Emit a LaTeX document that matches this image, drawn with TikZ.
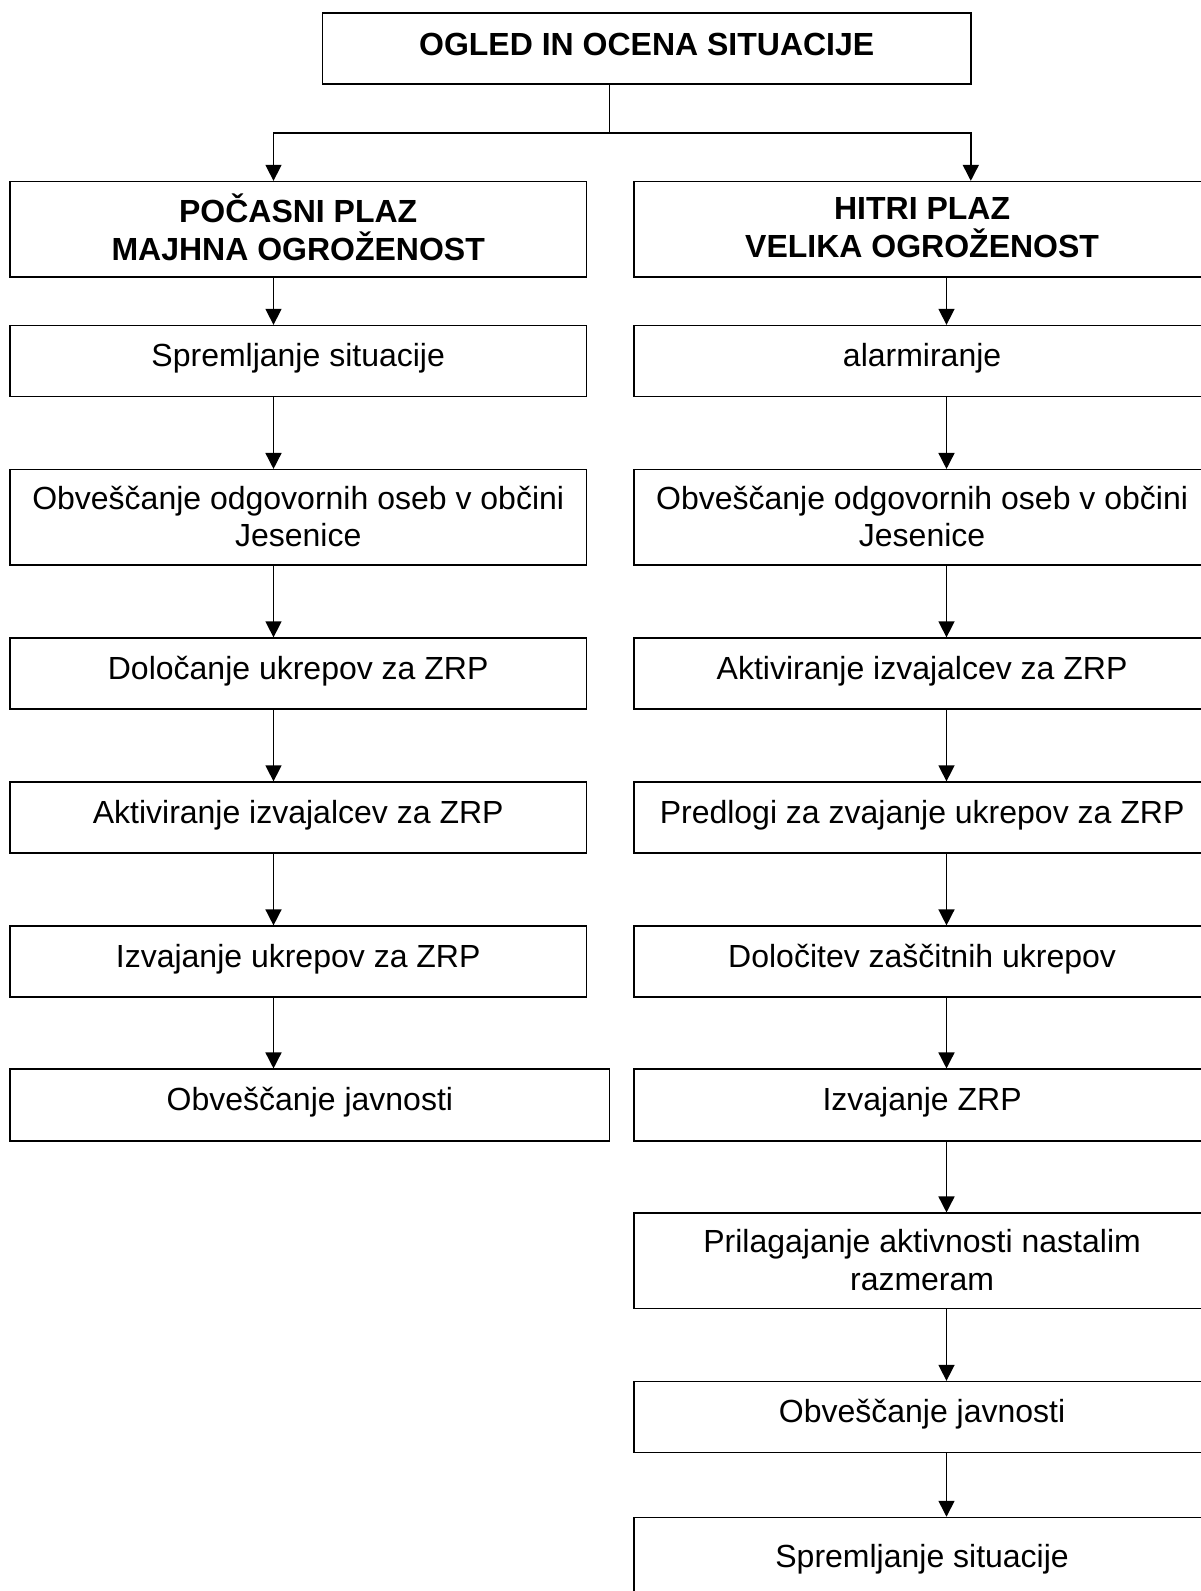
\documentclass[tikz,border=0pt]{standalone}
\usepackage{fontspec}
\setmainfont{Liberation Sans}
\usetikzlibrary{arrows.meta}
\tikzset{
  box/.style={draw=black, line width=1.5pt, fill=white, inner sep=0pt, align=center,
    font=\fontsize{32}{37.5}\selectfont, text depth=0pt},
  one/.style={minimum height=71pt, text depth=12pt},
  two/.style={minimum height=95.3pt},
  lw/.style={minimum width=576.2pt},
  bold/.style={font=\fontsize{32}{37.5}\selectfont\bfseries},
  arr/.style={line width=1.5pt, -{Triangle[length=16pt,width=16pt]}},
  ln/.style={line width=1.5pt}
}
\begin{document}
\begin{tikzpicture}[x=1pt,y=-1pt]
\useasboundingbox (0,0) rectangle (1201,1591);
\clip (0,0) rectangle (1201,1591);
\fill[white] (0,0) rectangle (1201,1591);
% top
\node[box, bold, one, minimum width=648.2pt, text depth=8pt] (top) at (646.7,48.7) {OGLED IN OCENA SITUACIJE};
% left column
\node[box, bold, two, lw, text depth=4pt] (l1) at (298.2,229.25) {POČASNI PLAZ\\MAJHNA OGROŽENOST};
\node[box, one, lw] (l2) at (298.2,361.1) {Spremljanje situacije};
\node[box, two, lw, text depth=2pt] (l3) at (298.2,517.35) {Obveščanje odgovornih oseb v občini\\Jesenice};
\node[box, one, lw] (l4) at (298.2,673.6) {Določanje ukrepov za ZRP};
\node[box, one, lw] (l5) at (298.2,817.6) {Aktiviranje izvajalcev za ZRP};
\node[box, one, lw] (l6) at (298.2,961.65) {Izvajanje ukrepov za ZRP};
\node[box, one, minimum height=72pt, minimum width=599.6pt] (l7) at (309.9,1105.2) {Obveščanje javnosti};
% right column
\node[box, bold, two, lw, text depth=4pt] (r1) at (922.1,229.25) {HITRI PLAZ\\VELIKA OGROŽENOST};
\node[box, one, lw] (r2) at (922.1,361.1) {alarmiranje};
\node[box, two, lw, text depth=2pt] (r3) at (922.1,517.35) {Obveščanje odgovornih oseb v občini\\Jesenice};
\node[box, one, lw] (r4) at (922.1,673.6) {Aktiviranje izvajalcev za ZRP};
\node[box, one, lw] (r5) at (922.1,817.6) {Predlogi za zvajanje ukrepov za ZRP};
\node[box, one, lw] (r6) at (922.1,961.65) {Določitev zaščitnih ukrepov};
\node[box, one, minimum height=72pt, lw] (r7) at (922.1,1105.2) {Izvajanje ZRP};
\node[box, minimum height=95.4pt, lw, text depth=2pt] (r8) at (922.1,1260.9) {Prilagajanje aktivnosti nastalim\\razmeram};
\node[box, one, lw] (r9) at (922.1,1417.1) {Obveščanje javnosti};
\node[box, one, minimum height=88pt, lw] (r10) at (922.1,1561.5) {Spremljanje situacije};
% connector coordinates
\coordinate (j) at (609.7,133);
\coordinate (lx) at (273.5,0);
\coordinate (rx) at (946.5,0);
\coordinate (tx) at (970.8,0);
\draw[ln] (top.south -| j) -- (j);
\draw[arr] (j) -| (l1.north -| lx);
\draw[arr] (j) -| (r1.north -| tx);
\foreach \a/\b in {l1/l2,l2/l3,l3/l4,l4/l5,l5/l6,l6/l7}
  \draw[arr] (\a.south -| lx) -- (\b.north -| lx);
\foreach \a/\b in {r1/r2,r2/r3,r3/r4,r4/r5,r5/r6,r6/r7,r7/r8,r8/r9,r9/r10}
  \draw[arr] (\a.south -| rx) -- (\b.north -| rx);
\end{tikzpicture}
\end{document}
